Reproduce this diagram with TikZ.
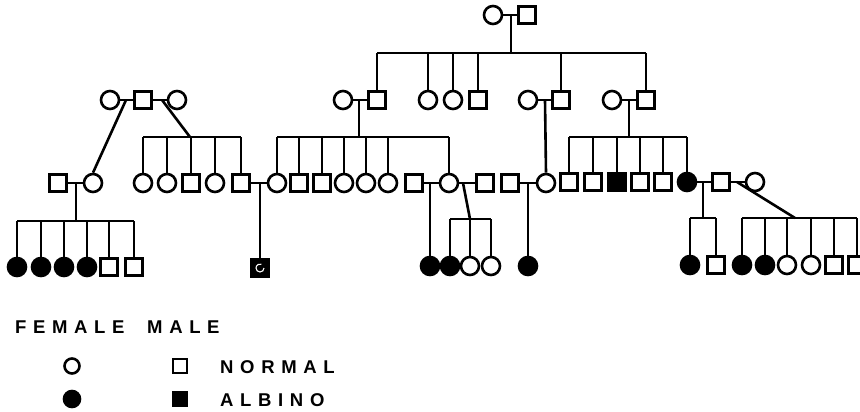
\documentclass[tikz,border=0pt]{standalone}
\usepackage{fontspec}
\newfontfamily\legendfont{Liberation Sans}[LetterSpace=36]
\begin{document}
\begin{tikzpicture}[x=1pt,y=-1pt,
  link/.style={line width=2.6pt},
  fem/.style={circle,draw,line width=2.6pt,minimum size=18pt,inner sep=0pt},
  mal/.style={rectangle,draw,line width=2.6pt,minimum size=17pt,inner sep=0pt},
  aff/.style={fill=black},
  keyfem/.style={circle,draw,line width=2.6pt,minimum size=15pt,inner sep=0pt},
  keymal/.style={rectangle,draw,line width=2.6pt,minimum size=14pt,inner sep=0pt},
  keytext/.style={anchor=base west,inner sep=0pt,font=\legendfont\bfseries\fontsize{18.5}{18.5}\selectfont}]
\useasboundingbox (0,0) rectangle (860,412);
\clip (0,0) rectangle (860,412);

% ---------- generation I ----------
\node[fem] (I1) at (493,15) {};
\node[mal] (I2) at (527,15) {};

% ---------- generation II ----------
\node[fem] (L1) at (110,100) {};
\node[mal] (L2) at (143,100) {};
\node[fem] (L3) at (177,100) {};
\node[fem] (A1) at (343,100) {};
\node[mal] (A2) at (377,100) {};
\node[fem] (B1) at (428,100) {};
\node[fem] (B2) at (453,100) {};
\node[mal] (B3) at (478,100) {};
\node[fem] (C1) at (528,100) {};
\node[mal] (C2) at (561,100) {};
\node[fem] (D1) at (612,100) {};
\node[mal] (D2) at (646,100) {};

% ---------- generation III ----------
\node[mal] (P1) at (58,183) {};
\node[fem] (P2) at (93,183) {};
\node[fem] (q1) at (143,183) {};
\node[fem] (q2) at (167,183) {};
\node[mal] (q3) at (191,183) {};
\node[fem] (q4) at (215,183) {};
\node[mal] (q5) at (241,183) {};
\node[fem] (r1) at (277,183) {};
\node[mal] (r2) at (299,183) {};
\node[mal] (r3) at (322,183) {};
\node[fem] (r4) at (344,183) {};
\node[fem] (r5) at (366,183) {};
\node[fem] (r6) at (388,183) {};
\node[mal] (S1) at (414,183) {};
\node[fem] (r7) at (449,183) {};
\node[mal] (S2) at (485,183) {};
\node[mal] (T1) at (510,183) {};
\node[fem] (T2) at (546,183) {};
\node[mal] (u1) at (569,182) {};
\node[mal] (u2) at (593,182) {};
\node[mal,aff] (u3) at (617,182) {};
\node[mal] (u4) at (640,182) {};
\node[mal] (u5) at (663,182) {};
\node[fem,aff] (u6) at (687,182) {};
\node[mal] (V1) at (721,182) {};
\node[fem] (V2) at (755,182) {};

% ---------- generation IV ----------
\node[fem,aff] (p1) at (17,267) {};
\node[fem,aff] (p2) at (41,267) {};
\node[fem,aff] (p3) at (64,267) {};
\node[fem,aff] (p4) at (87,267) {};
\node[mal] (p5) at (109,267) {};
\node[mal] (p6) at (134,267) {};
\node[mal,aff] (alb) at (260,268) {};
\draw[white,line width=1.1pt] ([shift={(4,0)}]alb.center) arc[start angle=0,end angle=290,radius=4];
\node[fem,aff] (s1) at (430,266) {};
\node[fem,aff] (s2) at (450,266) {};
\node[fem] (s3) at (470,266) {};
\node[fem] (s4) at (491,266) {};
\node[fem,aff] (t1) at (528,266) {};
\node[fem,aff] (v1) at (690,265) {};
\node[mal] (v2) at (716,265) {};
\node[fem,aff] (w1) at (742,265) {};
\node[fem,aff] (w2) at (765,265) {};
\node[fem] (w3) at (787,265) {};
\node[fem] (w4) at (811,265) {};
\node[mal] (w5) at (834,265) {};
\node[mal] (w6) at (857,265) {};

% ---------- marriage lines ----------
\foreach \a/\b in {I1/I2,L1/L2,L2/L3,A1/A2,C1/C2,D1/D2,P1/P2,q5/r1,S1/r7,r7/S2,T1/T2,u6/V1,V1/V2}
  \draw[link] (\a.east) -- (\b.west);

% ---------- junctions on marriage lines ----------
\coordinate (jI) at (511,15);
\coordinate (jLa) at (126,100);
\coordinate (jLb) at (162,100);
\coordinate (jA) at (359,100);
\coordinate (jC) at (545,100);
\coordinate (jD) at (629,100);
\coordinate (jP) at (76,183);
\coordinate (jQ) at (260,183);
\coordinate (jS1) at (430,183);
\coordinate (jS2) at (463,183);
\coordinate (jT) at (528,183);
\coordinate (jU) at (703,182);
\coordinate (jV) at (737,182);

% ---------- sibship line levels ----------
\coordinate (yI) at (0,53);
\coordinate (yII) at (0,137);
\coordinate (yP) at (0,221);
\coordinate (yS) at (0,219);
\coordinate (yU) at (0,218);

% children of generation I
\draw[link] (jI) -- (jI |- yI);
\draw[link] (A2 |- yI) -- (D2 |- yI);
\foreach \c in {A2,B1,B2,B3,C2,D2} \draw[link] (\c.north) -- (\c |- yI);

% left family of generation II
\draw[link] (jLa) -- (P2.north);
\coordinate (kL) at (190,137);
\draw[link] (jLb) -- (kL);
\draw[link] (q1 |- yII) -- (q5 |- yII);
\foreach \c in {q1,q2,q3,q4,q5} \draw[link] (\c.north) -- (\c |- yII);

% children of A1 and A2
\draw[link] (jA) -- (jA |- yII);
\draw[link] (r1 |- yII) -- (r7 |- yII);
\foreach \c in {r1,r2,r3,r4,r5,r6,r7} \draw[link] (\c.north) -- (\c |- yII);

% only child of C1 and C2
\draw[link] (jC) -- (T2.north);

% children of D1 and D2
\draw[link] (jD) -- (jD |- yII);
\draw[link] (u1 |- yII) -- (u6 |- yII);
\foreach \c in {u1,u2,u3,u4,u5,u6} \draw[link] (\c.north) -- (\c |- yII);

% children of P1 and P2
\draw[link] (jP) -- (jP |- yP);
\draw[link] (p1 |- yP) -- (p6 |- yP);
\foreach \c in {p1,p2,p3,p4,p5,p6} \draw[link] (\c.north) -- (\c |- yP);

% single children
\draw[link] (jQ) -- (alb.north);
\draw[link] (jS1) -- (s1.north);
\draw[link] (jT) -- (t1.north);

% children of r7 and S2
\coordinate (kS) at (470,219);
\draw[link] (jS2) -- (kS);
\draw[link] (s2 |- yS) -- (s4 |- yS);
\foreach \c in {s2,s3,s4} \draw[link] (\c.north) -- (\c |- yS);

% children of u6 and V1
\draw[link] (jU) -- (jU |- yU);
\draw[link] (v1 |- yU) -- (v2 |- yU);
\foreach \c in {v1,v2} \draw[link] (\c.north) -- (\c |- yU);

% children of V1 and V2
\coordinate (kV) at (795,218);
\draw[link] (jV) -- (kV);
\draw[link] (w1 |- yU) -- (w6 |- yU);
\foreach \c in {w1,w2,w3,w4,w5,w6} \draw[link] (\c.north) -- (\c |- yU);

% ---------- key ----------
\node[keytext] (kf) at (15,333) {FEMALE};
\node[keytext] (km) at (147,333) {MALE};
\node[keyfem] (kn1) at (72,366) {};
\node[keymal] (kn2) at (180,366) {};
\node[keytext] (kn) at (220,373) {NORMAL};
\node[keyfem,aff,minimum size=16pt] (ka1) at (72,399) {};
\node[keymal,aff] (ka2) at (180,399) {};
\node[keytext] (ka) at (220,406) {ALBINO};
\end{tikzpicture}
\end{document}
